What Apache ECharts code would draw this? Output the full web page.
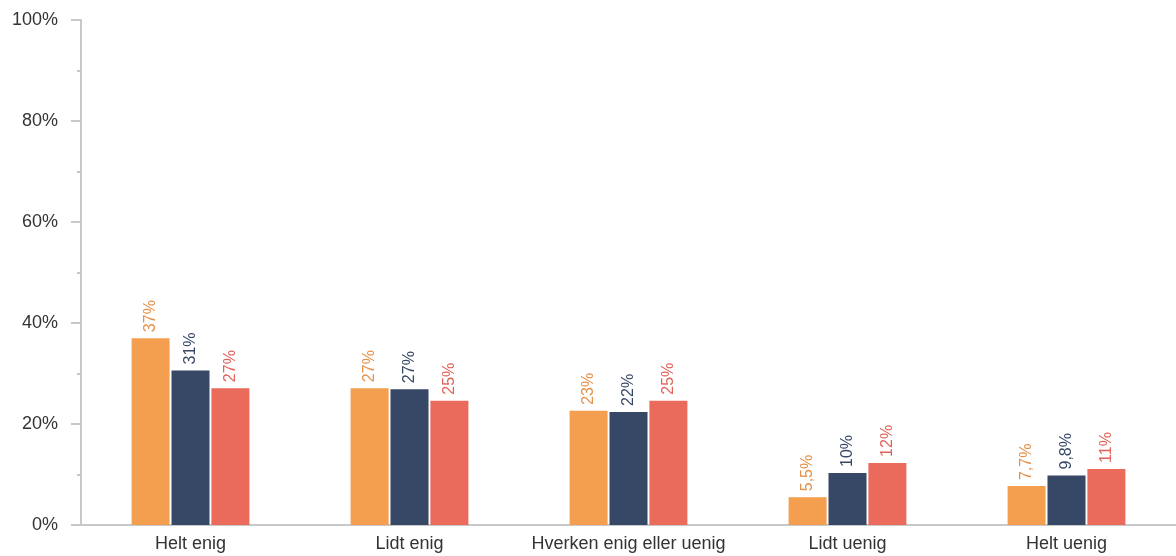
<!DOCTYPE html>
<html><head><meta charset="utf-8">
<script src="https://cdn.jsdelivr.net/npm/echarts@6/dist/echarts.min.js"></script>
<style>html,body{margin:0;padding:0;background:#fff}#c{width:1176px;height:556px}</style>
</head><body><div id="c"></div>
<script>
const categories = ["Helt enig", "Lidt enig", "Hverken enig eller uenig", "Lidt uenig", "Helt uenig"];
const seriesA = [37.0, 27.1, 22.6, 5.5, 7.7];
const seriesB = [30.6, 26.9, 22.4, 10.3, 9.8];
const seriesC = [27.1, 24.6, 24.6, 12.3, 11.1];
const yTicks = [0, 20, 40, 60, 80, 100];

const barColors = ["#F49F4F", "#374766", "#EA6A5B"];
const labelColors = ["#E4914A", "#374766", "#E0625A"];

function fmt(v) {
  const s = v >= 10 ? Math.round(v).toString() : (Math.round(v * 10) / 10).toFixed(1);
  return s.replace('.', ',') + '%';
}

const FONT = 'Liberation Sans, Arial, sans-serif';
const chart = echarts.init(document.getElementById('c'), null, {renderer: 'canvas'});
const data = [seriesA, seriesB, seriesC];
chart.setOption({
  animation: false,
  grid: {left: 81, right: 0, top: 20, bottom: 31, containLabel: false},
  xAxis: {
    type: 'category', data: categories,
    axisLine: {lineStyle: {color: '#C8C8C8', width: 2}},
    axisTick: {show: false},
    axisLabel: {color: '#333', fontSize: 18, fontFamily: FONT, margin: 10, interval: 0, hideOverlap: false}
  },
  yAxis: {
    type: 'value', min: yTicks[0], max: yTicks[yTicks.length - 1], interval: 20,
    axisLine: {show: true, lineStyle: {color: '#C8C8C8', width: 2}},
    axisTick: {show: true, inside: false, length: 10, lineStyle: {color: '#C8C8C8', width: 2}},
    minorTick: {show: true, splitNumber: 2, length: 4, lineStyle: {color: '#C8C8C8', width: 2}},
    splitLine: {show: false},
    axisLabel: {color: '#333', fontSize: 18, fontFamily: FONT, margin: 23,
      formatter: v => v + '%'}
  },
  series: data.map((d, i) => ({
    type: 'bar', data: d, barWidth: 38, barGap: '5%',
    itemStyle: {color: barColors[i]},
    label: {
      show: true, position: 'top', rotate: 90, align: 'left', verticalAlign: 'middle', distance: 6,
      color: labelColors[i], fontSize: 16, fontFamily: FONT,
      formatter: p => fmt(p.value)
    }
  }))
});
</script></body></html>
